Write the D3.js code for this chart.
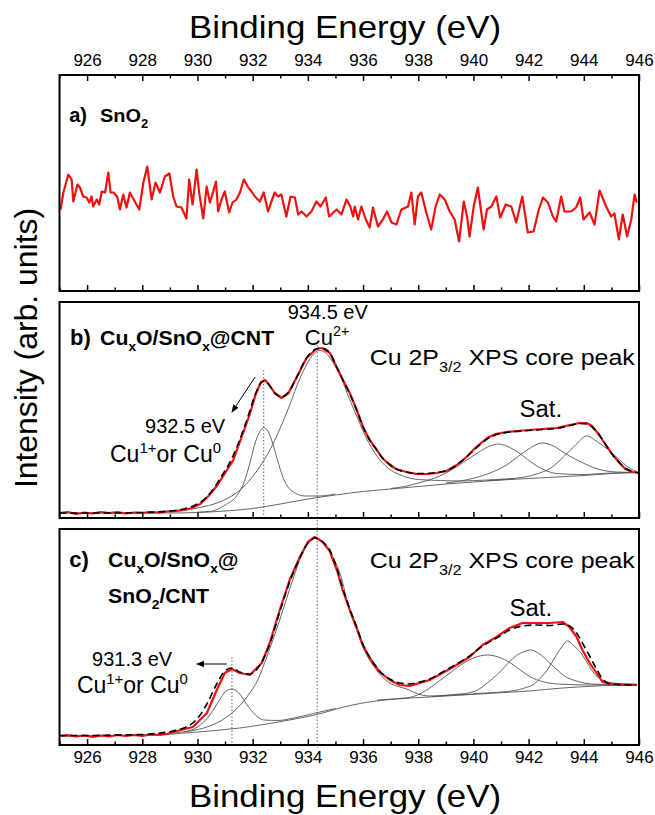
<!DOCTYPE html>
<html lang="en">

<head>
    <meta charset="utf-8">
    <script src="https://cdn.jsdelivr.net/npm/d3@7"></script>
    <title>Cu 2p3/2 XPS</title>
    <style>
        body { margin: 0; background: #fff; }
        text { font-family: "Liberation Sans", Arial, sans-serif; white-space: pre; }
    </style>
</head>

<body>
    <svg width="655" height="815" id="plot"></svg>
    <script>
    // tick values (binding energy, eV)
    const majorTicks = [926, 928, 930, 932, 934, 936, 938, 940, 942, 944, 946]
    const minorTicks = [925, 927, 929, 931, 933, 935, 937, 939, 941, 943, 945]

    // a) SnO2 - raw spectrum [eV, intensity]
    const snO2Raw = [[925.04,81.5],[925.14,98.5],[925.32,116.5],[925.44,111.5],[925.50,89.5],[925.65,106.5],[925.74,103.5],[925.86,94.5],[925.98,93.5],[926.08,88.5],[926.16,94.5],[926.22,84.5],[926.35,91.5],[926.44,86.5],[926.53,99.5],[926.65,98.5],[926.77,118.5],[926.85,98.5],[926.95,98.5],[927.09,94.5],[927.19,81.5],[927.31,96.5],[927.43,83.5],[927.55,98.5],[927.73,89.5],[927.89,81.5],[928.04,108.5],[928.18,124.5],[928.34,91.5],[928.48,108.5],[928.64,98.5],[928.82,114.5],[928.98,117.5],[929.12,94.5],[929.24,84.5],[929.42,83.5],[929.60,72.5],[929.70,111.5],[929.82,86.5],[929.97,121.5],[930.06,98.5],[930.21,72.5],[930.33,104.5],[930.45,88.5],[930.57,99.5],[930.67,109.5],[930.75,79.5],[930.87,91.5],[930.99,99.5],[931.15,78.5],[931.27,88.5],[931.41,91.5],[931.54,98.5],[931.68,111.5],[931.84,103.5],[931.96,99.5],[932.08,94.5],[932.26,89.5],[932.40,98.5],[932.56,79.5],[932.68,89.5],[932.80,98.5],[932.92,94.5],[933.04,96.5],[933.22,74.5],[933.37,94.5],[933.53,93.5],[933.65,76.5],[933.77,79.5],[933.95,74.5],[934.13,79.5],[934.31,89.5],[934.46,84.5],[934.65,93.5],[934.77,74.5],[935.04,81.5],[935.22,76.5],[935.40,91.5],[935.54,84.5],[935.64,74.5],[935.70,84.5],[935.82,71.5],[935.94,84.5],[936.10,71.5],[936.24,63.5],[936.36,83.5],[936.54,64.5],[936.72,71.5],[936.87,79.5],[937.03,68.5],[937.21,66.5],[937.39,81.5],[937.63,84.5],[937.75,98.5],[937.87,66.5],[937.99,94.5],[938.11,98.5],[938.29,78.5],[938.47,61.5],[938.63,84.5],[938.78,96.5],[938.96,91.5],[939.14,79.5],[939.32,71.5],[939.48,49.5],[939.65,89.5],[939.77,74.5],[939.86,54.5],[940.01,84.5],[940.16,103.5],[940.37,61.5],[940.49,81.5],[940.65,84.5],[940.83,94.5],[940.97,73.5],[941.17,86.5],[941.37,84.5],[941.55,68.5],[941.77,94.5],[941.97,58.5],[942.18,59.5],[942.37,81.5],[942.52,93.5],[942.70,88.5],[942.88,74.5],[943.00,69.5],[943.18,94.5],[943.30,79.5],[943.54,79.5],[943.72,83.5],[943.87,93.5],[943.99,71.5],[944.21,78.5],[944.39,66.5],[944.57,100.5],[944.81,84.5],[944.99,74.5],[945.11,77.5],[945.27,51.5],[945.41,76.5],[945.57,54.5],[945.72,71.5],[945.84,96.5],[945.92,88.5]]

    // b) CuxO/SnOx@CNT
    const cntRaw = [[925.0,5],[925.3,6],[925.6,4],[925.9,5.5],[926.2,4.5],[926.5,6],[926.8,5],[927.1,6],[927.4,4.5],[927.7,5.5],[928.0,5],[928.3,6],[928.6,5.5],[928.9,6.5],[929.2,7],[929.5,8],[929.8,10],[930.1,14],[930.4,22],[930.7,32],[931.0,45],[931.3,58],[931.6,81],[931.9,104],[932.1,123],[932.3,136],[932.45,138],[932.6,133],[932.8,125],[933.05,120],[933.3,125],[933.6,141],[933.95,160],[934.3,169],[934.5,170],[934.8,165],[935.04,151],[935.27,138],[935.52,125],[935.77,108],[936.0,91],[936.24,78],[936.5,68],[936.7,60],[936.97,53],[937.2,49],[937.58,46],[937.94,44],[938.3,44],[938.67,45],[939.03,47],[939.4,53],[939.75,61],[940.1,71],[940.5,80],[940.8,84],[941.2,86],[941.57,87],[942.0,88],[942.5,89],[943.0,90],[943.5,93],[943.85,95],[944.1,95],[944.3,92],[944.56,83],[944.8,73],[945.05,63],[945.3,55],[945.5,49],[945.76,46],[946.0,45]]
    const cntEnvelope = [[925,5],[926,5],[927,5],[928,5.5],[928.5,6],[929,7],[929.5,9],[930,14],[930.3,20],[930.6,30],[930.9,43],[931.2,57],[931.5,76],[931.8,99],[932.1,124],[932.3,135],[932.45,137],[932.6,133],[932.8,125],[933.05,121],[933.3,126],[933.6,141],[933.95,160],[934.3,169],[934.5,170],[934.8,165],[935.04,151],[935.27,138],[935.52,124],[935.77,108],[936,91],[936.24,78],[936.5,68],[936.7,60],[937,53],[937.2,49],[937.58,46],[937.94,44.5],[938.3,44.5],[938.67,45.5],[939.03,47.5],[939.4,53],[939.75,61],[940.1,70],[940.5,79],[940.8,83],[941.2,85.5],[941.57,86.5],[942,87.5],[942.5,88.5],[943,89.5],[943.5,92.5],[943.85,94.5],[944.1,94],[944.3,91],[944.56,83],[944.8,73],[945.05,63],[945.3,55],[945.5,50],[945.76,46.5],[946,45]]
    const cntBackground = [[925,5],[929,5],[930,5.5],[931,7],[932,9.5],[933,14],[934,19],[935,23],[936,26.5],[937,29],[938,31.5],[939,34],[940,36],[941,38],[942,39.5],[943,41],[944,42.5],[945,44.5],[946,45.5]]
    const cntPeakCu1 = [[930.0,5.8],[930.5,6.8],[931.0,13],[931.4,21.5],[931.7,36.5],[931.9,55],[932.1,76],[932.25,86],[932.4,90.5],[932.55,87],[932.7,77],[932.9,58],[933.1,40.5],[933.4,27.5],[933.9,22],[934.4,22],[935,24]]
    const cntPeakCu2 = [[929.0,6],[930.0,10],[930.8,16],[931.4,25],[931.9,38],[932.3,53],[932.7,72],[933.0,90],[933.3,110],[933.6,132],[933.9,150.5],[934.15,162],[934.4,167.5],[934.65,165],[934.9,156],[935.2,140.5],[935.5,119.5],[935.8,100],[936.1,81],[936.5,62],[936.9,50],[937.4,42.5],[938.0,38.5],[938.8,37.5],[939.5,37],[940.5,38],[941.5,39.5]]
    const cntSat1 = [[937.0,29.5],[937.5,31.5],[938.0,35],[938.5,39],[939.0,45],[939.6,55],[940.2,66],[940.6,72],[940.9,74],[941.2,72],[941.6,66],[942.3,52],[943.0,44.5],[943.9,43.5],[945,45],[946,45.5]]
    const cntSat2 = [[939.0,35],[939.8,38.5],[940.6,45],[941.2,53],[941.6,61],[942.0,69],[942.5,75],[942.9,72],[943.3,65],[943.9,56],[944.5,49],[945.2,46],[946,45.5]]
    const cntSat3 = [[940.5,37.5],[941.5,39.5],[942.3,44],[942.8,50],[943.3,62],[943.7,73],[944.1,82],[944.5,76],[944.85,69],[945.3,58],[945.6,51],[946,45.5]]

    // c) CuxO/SnOx@SnO2/CNT
    const snCntRaw = [[925.0,9],[925.3,10],[925.6,8.5],[925.9,9.5],[926.2,8],[926.5,9.5],[926.8,8.5],[927.1,10],[927.4,9],[927.7,10],[928.0,9],[928.3,10.5],[928.6,10],[928.9,11],[929.11,13],[929.83,18],[930.34,32],[930.70,55],[930.99,72],[931.25,76],[931.53,72],[931.9,70],[932.33,82],[932.62,102],[932.98,135],[933.34,165],[933.71,188],[934.0,203],[934.25,208],[934.54,203],[934.79,194],[935.05,175],[935.26,155],[935.52,135],[935.77,117],[935.99,100],[936.24,87],[936.6,73],[936.97,65],[937.33,60],[937.69,59],[938.05,62],[938.41,65],[938.88,72],[939.39,80],[939.86,88],[940.33,100],[940.84,108],[941.31,117],[941.78,122],[942.29,122],[942.76,122],[943.23,123],[943.48,118],[943.74,108],[943.95,95],[944.21,82],[944.46,72],[944.68,63],[945.04,61],[945.4,60],[945.91,60]]
    const snCntEnvelope = [[925,9.5],[926,9.5],[927,10],[928,10.5],[928.5,11.5],[929.11,14],[929.5,17],[929.83,22],[930.1,30],[930.34,41],[930.7,61],[930.99,74],[931.25,77],[931.53,73],[931.9,71],[932.33,83],[932.62,101],[932.98,133],[933.34,163],[933.71,187],[934.0,202],[934.25,207],[934.54,203],[934.79,195],[935.05,177],[935.26,157],[935.52,136],[935.77,118],[935.99,101],[936.24,88],[936.6,74],[936.97,66],[937.33,62],[937.69,61],[938.05,63],[938.41,66],[938.88,73],[939.39,81],[939.86,89],[940.33,99],[940.84,107],[941.31,115],[941.78,119],[942.29,120],[942.76,119.5],[943.23,121],[943.48,119],[943.74,112],[943.95,102],[944.21,89],[944.46,76],[944.68,66],[944.9,61.5],[945.2,60.5],[945.91,60]]
    const snCntBackground = [[925,9],[928.5,10],[929.11,11],[930,13],[931.53,17],[932.5,21],[933.34,25],[934.54,32],[935.16,37],[935.99,42],[937.2,46],[938.4,48],[939.6,50],[940.84,52],[942.0,54],[943.23,57],[944.46,59],[945.91,60.5]]
    const snCntPeakCu1 = [[929.5,13],[930.0,18],[930.45,30],[930.8,45],[931.0,53],[931.25,56],[931.5,52],[931.8,40],[932.1,30],[932.4,25],[932.9,24.5],[933.5,27],[934.2,31.5],[935,36.5]]
    const snCntPeakCu2 = [[925,9],[928,10],[929.11,12],[930.34,18],[931.06,28],[931.79,48],[932.2,66],[932.51,88],[932.98,125],[933.45,165],[933.81,192],[934.14,205],[934.32,207],[934.54,203],[934.9,188],[935.16,172],[935.52,134],[935.77,115],[935.99,98],[936.24,85],[936.6,71],[936.97,62],[937.33,58],[937.58,56],[938.0,51],[938.41,49],[939.0,49.5],[940,51]]
    const snCntSat1 = [[936.5,45],[937.3,46.5],[937.83,48.5],[938.3,55],[938.81,65],[939.2,73],[939.65,82],[940.1,88],[940.51,90],[940.9,88],[941.35,82],[941.7,75],[942.07,68],[942.5,63.5],[943.05,61],[944.28,60],[945.91,60.5]]
    const snCntSat2 = [[938.5,48.5],[939.3,50.5],[939.8,52],[940.15,55],[940.5,62],[940.88,71],[941.2,80],[941.49,88],[941.8,93],[942.07,95],[942.4,91],[942.69,84],[943.0,76],[943.3,69],[943.8,63.5],[944.28,61],[945.0,60.5],[945.91,60.5]]
    const snCntSat3 = [[940.0,51.5],[941.0,53],[941.5,54.5],[941.85,57],[942.2,61],[942.43,67],[942.7,76],[942.94,87],[943.2,98],[943.41,104],[943.65,99],[943.92,91],[944.15,81],[944.39,71],[944.6,66],[944.86,63],[945.3,61.5],[945.91,61]]

    let svg = d3.select("#plot")
    const font = '"Liberation Sans", Arial, sans-serif'

    // X scale, shared by the three panels
    let scaleX = d3.scaleLinear().domain([925, 946]).range([59.5, 639])

    // panel frames
    const panels = [{ top: 75, bottom: 291 }, { top: 302, bottom: 518 }, { top: 529, bottom: 745 }]
    panels.forEach(p => {
        p.y = d3.scaleLinear().domain([0, 216]).range([p.bottom, p.top])
    })
    const [pa, pb, pc] = panels

    // arrow head
    svg.append("defs").append("marker")
        .attr("id", "arrowHead")
        .attr("viewBox", "0 0 10 10")
        .attr("refX", 9).attr("refY", 5)
        .attr("markerWidth", 8).attr("markerHeight", 8)
        .attr("markerUnits", "userSpaceOnUse")
        .attr("orient", "auto")
        .append("path")
        .attr("d", "M0,1 L10,5 L0,9 z")
        .attr("fill", "black")

    // text with sub/superscripts: parts = [[str, "sub"|"sup"|""], ...]
    // sx stretches the text horizontally (the original lettering is wide)
    function richText(x, y, parts, size, weight, sx) {
        let t = svg.append("text")
            .attr("transform", `translate(${x},${y}) scale(${sx || 1},1)`)
            .attr("font-size", size)
            .attr("font-weight", weight || "normal")
        let shift = 0
        parts.forEach(([str, kind]) => {
            let target = 0, fs = size
            if (kind === "sub") { target = size * 0.3; fs = size * 0.65 }
            if (kind === "sup") { target = -size * 0.4; fs = size * 0.65 }
            t.append("tspan").attr("dy", target - shift).attr("font-size", fs).text(str)
            shift = target
        })
        return t
    }

    function drawLine(p, data, color, width, dash, curve) {
        svg.append("path")
            .datum(data)
            .attr("fill", "none")
            .attr("stroke", color)
            .attr("stroke-width", width)
            .attr("stroke-dasharray", dash || null)
            .attr("stroke-linejoin", "round")
            .attr("d", d3.line()
                .x(d => scaleX(d[0]))
                .y(d => p.y(d[1]))
                .curve(curve || d3.curveMonotoneX))
    }

    function styleAxis(a) {
        a.select(".domain").remove()
        a.selectAll("line").attr("stroke", "black").attr("stroke-width", 1.5)
        a.selectAll("text").attr("font-family", font).attr("font-size", 17).attr("fill", "black")
    }

    // bottom ticks (inward) for every panel, labels only under panel c
    panels.forEach((p, i) => {
        let major = d3.axisBottom(scaleX).tickValues(majorTicks).tickSize(-6).tickPadding(6)
        if (i < 2) major.tickFormat("")
        styleAxis(svg.append("g").attr("transform", `translate(0,${p.bottom})`).call(major))
        let minor = d3.axisBottom(scaleX).tickValues(minorTicks).tickSize(-3.5).tickFormat("")
        styleAxis(svg.append("g").attr("transform", `translate(0,${p.bottom})`).call(minor))
    })

    // top ticks + labels on panel a
    styleAxis(svg.append("g").attr("transform", `translate(0,${pa.top})`)
        .call(d3.axisTop(scaleX).tickValues(majorTicks).tickSize(-6).tickPadding(9)))
    styleAxis(svg.append("g").attr("transform", `translate(0,${pa.top})`)
        .call(d3.axisTop(scaleX).tickValues(minorTicks).tickSize(-3.5).tickFormat("")))

    // dotted guide lines
    function guide(eV, y1, y2) {
        svg.append("line")
            .attr("x1", scaleX(eV)).attr("x2", scaleX(eV))
            .attr("y1", y1).attr("y2", y2)
            .attr("stroke", "#666").attr("stroke-width", 1)
            .attr("stroke-dasharray", "1.5,2")
    }
    guide(932.4, pb.y(148), pb.y(0))
    guide(934.34, pb.y(173), pc.y(0) + 3)
    guide(931.25, pc.y(88), pc.y(0))

    // panel a
    drawLine(pa, snO2Raw, "#ee1111", 2.2, null, d3.curveLinear)

    // panel b
    const compColor = "#555"
    ;[cntBackground, cntPeakCu1, cntPeakCu2, cntSat1, cntSat2, cntSat3].forEach(d => drawLine(pb, d, compColor, 0.9))
    drawLine(pb, cntRaw, "#ee1111", 2.2, null, d3.curveLinear)
    drawLine(pb, cntEnvelope, "black", 1.6, "7,4")

    // panel c
    ;[snCntBackground, snCntPeakCu1, snCntPeakCu2, snCntSat1, snCntSat2, snCntSat3].forEach(d => drawLine(pc, d, compColor, 0.9))
    drawLine(pc, snCntRaw, "#ee1111", 2.2, null, d3.curveLinear)
    drawLine(pc, snCntEnvelope, "black", 1.6, "7,4")

    // frames
    panels.forEach(p => {
        svg.append("rect")
            .attr("x", scaleX(925)).attr("y", p.top)
            .attr("width", scaleX(946) - scaleX(925)).attr("height", p.bottom - p.top)
            .attr("fill", "none").attr("stroke", "black").attr("stroke-width", 2)
    })

    // arrows
    svg.append("line")
        .attr("x1", scaleX(932.09)).attr("y1", pb.y(141))
        .attr("x2", scaleX(931.25)).attr("y2", pb.y(106))
        .attr("stroke", "black").attr("stroke-width", 1)
        .attr("marker-end", "url(#arrowHead)")
    svg.append("line")
        .attr("x1", scaleX(931.06)).attr("y1", pc.y(81))
        .attr("x2", scaleX(929.98)).attr("y2", pc.y(81))
        .attr("stroke", "black").attr("stroke-width", 1)
        .attr("marker-end", "url(#arrowHead)")

    // panel labels
    richText(scaleX(925.35), pa.y(169), [["a)", ""]], 20, "bold")
    richText(scaleX(926.47), pa.y(169), [["SnO", ""], ["2", "sub"]], 19, "bold", 1.05)
    richText(scaleX(925.38), pb.y(173), [["b)", ""]], 22, "bold")
    richText(scaleX(926.47), pb.y(173), [["Cu", ""], ["x", "sub"], ["O/SnO", ""], ["x", "sub"], ["@CNT", ""]], 19.5, "bold", 1.09)
    richText(scaleX(925.35), pc.y(178), [["c)", ""]], 22, "bold")
    richText(scaleX(926.76), pc.y(178), [["Cu", ""], ["x", "sub"], ["O/SnO", ""], ["x", "sub"], ["@", ""]], 19.5, "bold", 1.09)
    richText(scaleX(926.76), pc.y(142), [["SnO", ""], ["2", "sub"], ["/CNT", ""]], 19.5, "bold", 1.09)

    // annotations, panel b
    richText(scaleX(933.27), pb.y(199), [["934.5 eV", ""]], 20)
    richText(scaleX(933.89), pb.y(173), [["Cu", ""], ["2+", "sup"]], 22)
    richText(scaleX(928.10), pb.y(85), [["932.5 eV", ""]], 20)
    richText(scaleX(926.83), pb.y(56), [["Cu", ""], ["1+", "sup"], ["or Cu", ""], ["0", "sup"]], 23)
    richText(scaleX(936.24), pb.y(153), [["Cu 2P", ""], ["3/2", "sub"], [" XPS core peak", ""]], 23, "normal", 1.085)
    richText(scaleX(941.67), pb.y(101), [["Sat.", ""]], 23, "normal", 1.04)

    // annotations, panel c
    richText(scaleX(926.18), pc.y(79), [["931.3 eV", ""]], 20)
    richText(scaleX(925.63), pc.y(52), [["Cu", ""], ["1+", "sup"], ["or Cu", ""], ["0", "sup"]], 23)
    richText(scaleX(936.24), pc.y(177), [["Cu 2P", ""], ["3/2", "sub"], [" XPS core peak", ""]], 23, "normal", 1.085)
    richText(scaleX(941.31), pc.y(129), [["Sat.", ""]], 23, "normal", 1.04)

    // axis titles
    svg.append("text").text("Binding Energy (eV)")
        .attr("transform", "translate(345,38) scale(1.09,1)")
        .attr("text-anchor", "middle").attr("font-size", 32)
    svg.append("text").text("Binding Energy (eV)")
        .attr("transform", "translate(345,807) scale(1.09,1)")
        .attr("text-anchor", "middle").attr("font-size", 32)
    svg.append("text").text("Intensity (arb. units)")
        .attr("transform", "translate(37,348) rotate(-90) scale(1.03,1)")
        .attr("text-anchor", "middle").attr("font-size", 31)
    </script>
</body>

</html>
